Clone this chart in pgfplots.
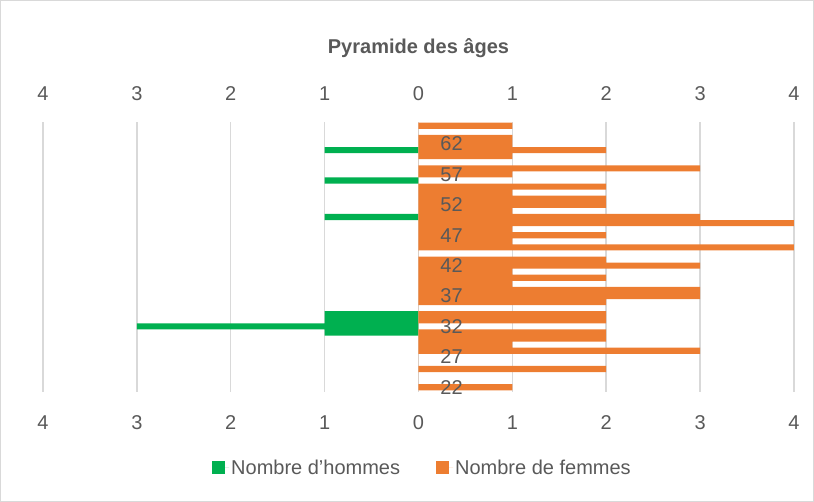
\documentclass[border=0pt]{standalone}
\usepackage{fontspec}
\setmainfont{Liberation Sans}
\usepackage{pgfplots}
\pgfplotsset{compat=1.18}
\definecolor{menGreen}{HTML}{00B050}
\definecolor{womenOrange}{HTML}{ED7D31}
\definecolor{gridGray}{HTML}{D9D9D9}
\definecolor{textGray}{HTML}{595959}
\begin{document}
\begin{tikzpicture}[font=\fontsize{20}{24}\selectfont]
\draw[gridGray, line width=1pt] (0.5pt,0.5pt) rectangle (813.5pt,501.5pt);
\pgfplotsset{common/.style={
  scale only axis, width=751pt, height=270pt,
  at={(43pt,110pt)}, anchor=south west,
  xmin=-4, xmax=4, ymin=21.22, ymax=65.62,
  xtick={-4,-3,-2,-1,0,1,2,3,4},
  xticklabels={4,3,2,1,0,1,2,3,4},
  major tick length=0pt,
  axis line style={draw=none},
  tick style={draw=none},
  tick label style={text=textGray},
  /pgf/number format/assume math mode=true,
}}
\begin{axis}[common,
  ytick=\empty,
  xmajorgrids=true,
  grid style={gridGray, line width=1.5pt},
  xticklabel style={yshift=-20pt},
  title={\bfseries Pyramide des âges},
  title style={at={(axis description cs:0.5,1.2519)}, anchor=center, text=textGray},
  legend columns=2,
  legend style={at={(axis description cs:0.5053,-0.2815)}, anchor=center,
    draw=none, fill=none, text=textGray,
    /tikz/every even column/.append style={column sep=34pt}},
  legend image code/.code={\draw[#1,draw=none] (0pt,-6.5pt) rectangle (13pt,6.5pt); \path (0pt,0pt) -- (17pt,0pt);},
]
\addplot[xbar, bar width=1, bar shift=0pt, fill=menGreen, draw=none] coordinates {
  (-1,31) (-3,32) (-1,33) (-1,34) (-1,50) (-1,56) (-1,61)
};
\addlegendentry{Nombre d'hommes}
\addplot[xbar, bar width=1, bar shift=0pt, fill=womenOrange, draw=none] coordinates {
  (1,22) (0,23) (0,24) (2,25) (0,26) (0,27) (3,28) (1,29) (2,30) (2,31)
  (0,32) (2,33) (2,34) (0,35) (2,36) (3,37) (3,38) (1,39) (2,40) (1,41)
  (3,42) (2,43) (0,44) (4,45) (1,46) (2,47) (1,48) (4,49) (3,50) (1,51)
  (2,52) (2,53) (1,54) (2,55) (0,56) (1,57) (3,58) (0,59) (1,60) (2,61)
  (1,62) (1,63) (0,64) (1,65)
};
\addlegendentry{Nombre de femmes}
\end{axis}
\begin{axis}[common,
  xticklabel pos=right,
  xticklabel style={yshift=18pt},
  ytick={22,27,32,37,42,47,52,57,62},
  yticklabels={22,27,32,37,42,47,52,57,62},
  yticklabel style={anchor=center, xshift=408.5pt},
]
\end{axis}
\end{tikzpicture}
\end{document}
